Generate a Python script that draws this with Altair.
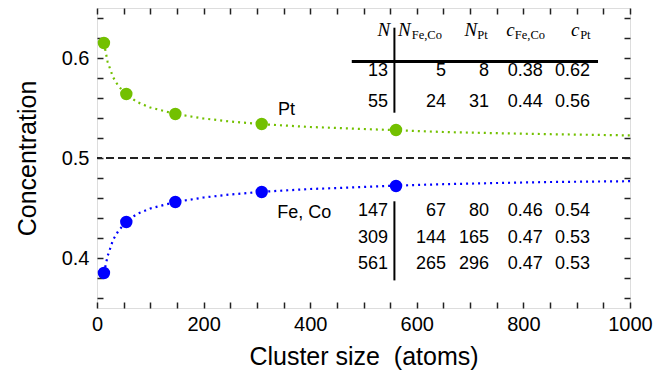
import altair as alt
import pandas as pd

# ---------------- data ----------------
cluster_N = [13, 55, 147, 309, 561]
c_pt_points = [0.615, 0.564, 0.544, 0.534, 0.528]
c_feco_points = [0.385, 0.436, 0.456, 0.466, 0.472]

# dotted fit curves
curve_x = [13, 20, 30, 40, 55, 75, 100, 147, 200, 250, 309, 400, 500, 561, 650, 750, 850, 1000]
curve_pt = [0.615, 0.596, 0.581, 0.572, 0.5636, 0.556, 0.5505, 0.544, 0.5395, 0.5365,
            0.5338, 0.531, 0.529, 0.5278, 0.526, 0.5248, 0.5238, 0.5226]
curve_feco = [0.385, 0.402, 0.418, 0.427, 0.4364, 0.444, 0.4495, 0.456, 0.4605, 0.4635,
              0.4662, 0.469, 0.471, 0.4724, 0.4738, 0.475, 0.476, 0.4768]

# inset table
tab_N = ["13", "55", "147", "309", "561"]
tab_NFeCo = ["5", "24", "67", "144", "265"]
tab_NPt = ["8", "31", "80", "165", "296"]
tab_cFeCo = ["0.38", "0.44", "0.46", "0.47", "0.47"]
tab_cPt = ["0.62", "0.56", "0.54", "0.53", "0.53"]
head_symbols = ["N", "N", "N", "c", "c"]
head_subs = ["Fe,Co", "Pt", "Fe,Co", "Pt"]

x_ticks = list(range(0, 1001, 50))
y_ticks = [round(0.36 + 0.02 * i, 2) for i in range(15)]

# ---------------- layout (data coordinates) ----------------
col_right = [546.2, 655.0, 735.6, 836.3, 925.0]
row_base = [0.5816, 0.5513, 0.4423, 0.4153, 0.3888]
head_sym_x = [526.2, 564.5, 689.3, 767.6, 889.3]
head_sub_x = [590.5, 713.5, 784.0, 906.5]

GREEN = "#73c000"
BLUE = "#0000ff"
SANS = "Liberation Sans"
SERIF = "Liberation Serif"

xs = alt.Scale(domain=[0, 1000], nice=False, zero=False)
ys = alt.Scale(domain=[0.35, 0.65], nice=False, zero=False)

def noax_x(f="x"):
    return alt.X(f + ":Q", scale=xs, axis=None)

def noax_y(f="y"):
    return alt.Y(f + ":Q", scale=ys, axis=None)

# dashed line at 0.5
dash = alt.Chart(pd.DataFrame({"y": [0.5]})).mark_rule(
    strokeDash=[8, 4], strokeWidth=2, color="#222"
).encode(y=noax_y())

# dotted curves (carry the top / right tick-only axes)
curve_df = pd.DataFrame({
    "x": curve_x + curve_x,
    "y": curve_pt + curve_feco,
    "s": ["Pt"] * len(curve_x) + ["FeCo"] * len(curve_x),
})
curves = alt.Chart(curve_df).mark_line(
    strokeDash=[2, 4], strokeWidth=2.2, strokeCap="butt"
).encode(
    x=alt.X("x:Q", scale=xs, axis=alt.Axis(
        orient="top", values=x_ticks, labels=False, ticks=True, tickSize=6,
        offset=-6, domain=False, grid=False, title=None, tickColor="#222", tickWidth=1.5)),
    y=alt.Y("y:Q", scale=ys, axis=alt.Axis(
        orient="right", values=y_ticks, labels=False, ticks=True, tickSize=6,
        offset=-6, domain=False, grid=False, title=None, tickColor="#222", tickWidth=1.5)),
    color=alt.Color("s:N", scale=alt.Scale(domain=["Pt", "FeCo"], range=[GREEN, BLUE]), legend=None),
    detail="s:N",
)

# points (carry the bottom / left labelled axes)
pts_df = pd.DataFrame({
    "x": cluster_N + cluster_N,
    "y": c_pt_points + c_feco_points,
    "s": ["Pt"] * 5 + ["FeCo"] * 5,
})
points = alt.Chart(pts_df).mark_circle(size=154, opacity=1).encode(
    x=alt.X("x:Q", scale=xs, axis=alt.Axis(
        orient="bottom", values=x_ticks,
        labelExpr="datum.value % 200 === 0 ? datum.label : ''",
        format="d", ticks=True, tickSize=6, offset=-6, domain=False, grid=False,
        tickColor="#222", tickWidth=1.5,
        labelFont=SANS, labelFontSize=20, labelColor="black", labelPadding=6,
        labelFlush=False, labelOverlap=False,
        title="Cluster size \u00a0(atoms)", titleFont=SANS, titleFontSize=25,
        titleFontWeight="normal", titleColor="black", titlePadding=10)),
    y=alt.Y("y:Q", scale=ys, axis=alt.Axis(
        orient="left", values=y_ticks,
        labelExpr="abs(datum.value*10 - round(datum.value*10)) < 0.000001 ? format(datum.value, '.1f') : ''",
        ticks=True, tickSize=6, offset=-6, domain=False, grid=False,
        tickColor="#222", tickWidth=1.5,
        labelFont=SANS, labelFontSize=20, labelColor="black", labelPadding=8,
        labelFlush=False, labelOverlap=False,
        title="Concentration", titleFont=SANS, titleFontSize=25,
        titleFontWeight="normal", titleColor="black", titlePadding=21)),
    color=alt.Color("s:N", scale=alt.Scale(domain=["Pt", "FeCo"], range=[GREEN, BLUE]), legend=None),
)

# series labels
lab_df = pd.DataFrame({"x": [339.4, 338.0], "y": [0.5433, 0.4400], "t": ["Pt", "Fe, Co"]})
labels = alt.Chart(lab_df).mark_text(
    font=SANS, fontSize=18, align="left", baseline="alphabetic", color="black"
).encode(x=noax_x(), y=noax_y(), text="t:N")

# table body
cells = []
for r in range(5):
    for c, col in enumerate([tab_N, tab_NFeCo, tab_NPt, tab_cFeCo, tab_cPt]):
        cells.append({"x": col_right[c], "y": row_base[r], "t": col[r]})
body = alt.Chart(pd.DataFrame(cells)).mark_text(
    font=SANS, fontSize=18, align="right", baseline="alphabetic", color="black"
).encode(x=noax_x(), y=noax_y(), text="t:N")

# table header: italic main symbols + roman subscripts
head_main = pd.DataFrame({"x": head_sym_x, "y": [0.6216] * 5, "t": head_symbols})
header_main = alt.Chart(head_main).mark_text(
    font=SERIF, fontSize=19, fontStyle="italic", align="left", baseline="alphabetic", color="black"
).encode(x=noax_x(), y=noax_y(), text="t:N")

head_sub = pd.DataFrame({"x": head_sub_x, "y": [0.6186] * 4, "t": head_subs})
header_sub = alt.Chart(head_sub).mark_text(
    font=SERIF, fontSize=12.5, align="left", baseline="alphabetic", color="black"
).encode(x=noax_x(), y=noax_y(), text="t:N")

# table rules
hrule = alt.Chart(pd.DataFrame({"x": [478.0], "x2": [940.0], "y": [0.5966]})).mark_rule(
    strokeWidth=3, color="black"
).encode(x=noax_x(), x2="x2:Q", y=noax_y())

vrule = alt.Chart(pd.DataFrame({"x": [558.0, 558.0], "y": [0.6303, 0.4567], "y2": [0.5453, 0.3776]})).mark_rule(
    strokeWidth=2, color="black"
).encode(x=noax_x(), y=noax_y(), y2="y2:Q")

chart = alt.layer(
    dash, curves, points, labels, hrule, vrule, body, header_main, header_sub
).resolve_axis(x="independent", y="independent").properties(
    width=533, height=300,
    padding={"left": 97, "top": 8, "right": 39, "bottom": 70},
    autosize=alt.AutoSizeParams(type="none"),
).configure_view(stroke="#222", strokeWidth=2).configure(background="white")

chart.save("out.html", embed_options={"renderer": "svg", "actions": False})
